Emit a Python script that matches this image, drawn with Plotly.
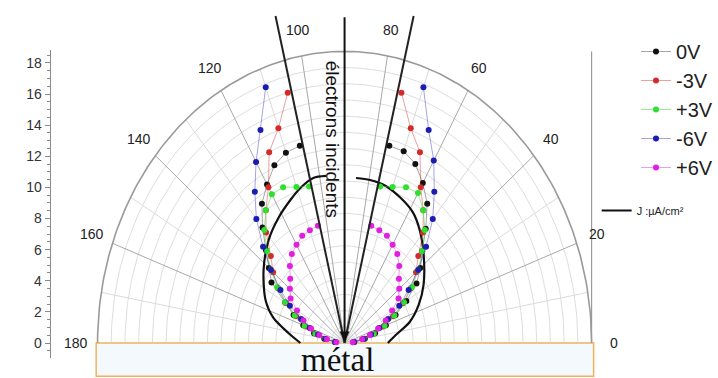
import numpy as np
import plotly.graph_objects as go

# Emission angles (degrees) of the measured points, on each side of the normal
theta_right = [5, 10, 15, 20, 25, 30, 35, 40, 45, 50, 55, 60, 65, 70, 75]
theta_left = [105, 110, 115, 120, 125, 130, 135, 140, 145, 150, 155, 160, 165, 170, 175]

# Angular distribution for each bias voltage (None = no measurement)
r_0V_right = [0.7, 1.5, 2.3, 3.2, 4.1, 5.2, 6.4, 7.2, 8.0, 9.2, 10.5, 11.4, 12.2, 12.6, 12.6]
r_0V_left = [12.6, 12.5, 12.1, 11.3, 10.5, 9.3, 8.1, 7.2, 6.5, 5.0, 4.1, 3.2, 2.3, 1.5, 0.7]

r_m3V_right = [0.7, 1.4, 2.2, 3.0, 3.9, 4.9, 5.9, 6.8, 7.6, 8.9, 10.0, 11.1, 13.0, 14.1, 16.0]
r_m3V_left = [16.0, 14.1, 13.0, 11.1, 10.0, 8.9, 7.6, 6.8, 5.9, 4.9, 3.9, 3.0, 2.2, 1.4, 0.7]

r_p3V_right = [0.7, 1.4, 2.2, 3.1, 4.0, 5.0, 6.0, 7.0, 8.0, 9.1, 10.0, 10.7, 10.6, 10.25, 10.0]
r_p3V_left = [10.0, 10.25, 10.6, 10.6, 10.0, 9.1, 8.0, 7.0, 6.0, 5.0, 4.0, 3.1, 2.2, 1.4, 0.7]

r_m6V_right = [0.7, 1.4, 2.0, 2.7, 3.5, 4.6, 5.7, 7.0, 8.4, 10.0, 11.4, 13.0, 14.5, 16.8, None]
r_m6V_left = [None, 16.8, 14.5, 12.9, 11.4, 10.0, 8.4, 7.0, 5.7, 4.6, 3.5, 2.7, 2.0, 1.4, 0.7]

r_p6V_right = [0.6, 1.3, 1.9, 2.6, 3.3, 4.0, 4.8, 5.2, 5.6, 6.2, 6.7, 7.0, 7.3, 7.4, 7.5]
r_p6V_left = [7.5, 7.4, 7.3, 7.0, 6.7, 6.2, 5.6, 5.2, 4.8, 4.0, 3.3, 2.6, 1.9, 1.3, 0.6]

# Current density J (uA/cm2), two lobes around the incident beam
j_theta_right = [0, 7.5, 15.3, 23.5, 31.9, 43.3, 51.9, 58.5, 65.4, 72.8, 79.6, 85.3]
j_r_right = [3.15, 3.76, 4.92, 5.89, 6.78, 7.92, 8.87, 9.49, 9.84, 10.15, 10.23, 10.22]
j_theta_left = [97.4, 102.6, 108.1, 114.1, 122, 131, 142.7, 155.3, 163.4, 171.4, 180]
j_r_left = [10.4, 10.44, 10.13, 9.67, 9.1, 8.43, 7.42, 6.34, 5.41, 4.14, 3.22]

series = [
    ("0V", r_0V_right, r_0V_left, "#111111", "rgba(60,60,60,0.45)"),
    ("-3V", r_m3V_right, r_m3V_left, "#d42a2a", "rgba(212,42,42,0.45)"),
    ("+3V", r_p3V_right, r_p3V_left, "#2fe02f", "rgba(47,224,47,0.5)"),
    ("-6V", r_m6V_right, r_m6V_left, "#1c1cb4", "rgba(28,28,180,0.4)"),
    ("+6V", r_p6V_right, r_p6V_left, "#e020e0", "rgba(224,32,224,0.45)"),
]

angle_ticks = list(range(0, 181, 20))
left_axis_ticks = list(range(0, 19, 2))

R_OUTER = 18
R_LABEL = 19.6
BEAM_ANGLES = [76, 104]
BEAM_LEN = 20.8
NORMAL_LEN = 20.2


def to_xy(theta_deg, r):
    t = np.radians(np.asarray(theta_deg, dtype=float))
    rr = np.asarray(r, dtype=float)
    return rr * np.cos(t), rr * np.sin(t)


fig = go.Figure()

# polar grid: rings and spokes on a half plane
arc = np.linspace(0, 180, 181)
for ring in range(1, R_OUTER):
    x, y = to_xy(arc, np.full_like(arc, ring))
    fig.add_trace(go.Scatter(x=x, y=y, mode="lines", line=dict(color="#d4d4d4", width=0.8),
                             showlegend=False, hoverinfo="skip"))
for ang in range(10, 180, 10):
    major = ang % 20 == 0
    x, y = to_xy([ang, ang], [0, R_OUTER])
    fig.add_trace(go.Scatter(x=x, y=y, mode="lines",
                             line=dict(color="#a8a8a8" if major else "#dadada", width=1),
                             showlegend=False, hoverinfo="skip"))
x, y = to_xy(arc, np.full_like(arc, R_OUTER))
fig.add_trace(go.Scatter(x=x, y=y, mode="lines", line=dict(color="#9a9a9a", width=1.6),
                         showlegend=False, hoverinfo="skip"))

# current density curve
jt = list(j_theta_right) + [None] + list(j_theta_left)
jr = list(j_r_right) + [None] + list(j_r_left)
jx, jy = to_xy(jt, jr)
fig.add_trace(go.Scatter(x=jx, y=jy, mode="lines", name="J :\u00b5A/cm\u00b2",
                         line=dict(color="#111111", width=2.2, shape="spline", smoothing=0.8),
                         legend="legend2"))

# measured distributions
for name, rr, rl, mcol, lcol in series:
    th = theta_right + [None] + theta_left
    rv = list(rr) + [None] + list(rl)
    x, y = to_xy(th, rv)
    fig.add_trace(go.Scatter(x=x, y=y, mode="lines+markers", name=name,
                             line=dict(color=lcol, width=1),
                             marker=dict(color=mcol, size=6)))

# carrier trace for the left scale
fig.add_trace(go.Scatter(x=[None], y=[None], xaxis="x", yaxis="y2",
                         showlegend=False, hoverinfo="skip"))

shapes = []
# incident beam boundaries
for ang in BEAM_ANGLES:
    bx, by = to_xy([0, ang], [0, BEAM_LEN])
    shapes.append(dict(type="line", xref="x", yref="y", x0=0, y0=0, x1=bx[1], y1=by[1],
                       line=dict(color="#222222", width=2)))
# frame line on the right
shapes.append(dict(type="line", xref="x", yref="y", x0=R_OUTER, y0=0, x1=R_OUTER, y1=R_OUTER,
                   line=dict(color="#9a9a9a", width=1.2)))
# metal block
shapes.append(dict(type="rect", xref="x", yref="y", x0=-R_OUTER - 0.1, y0=-2.05,
                   x1=R_OUTER + 0.15, y1=0, line=dict(color="#f0b35a", width=1.5),
                   fillcolor="#f3f9fc", layer="below"))

annotations = []
for a in angle_ticks:
    lx, ly = to_xy([a], [R_LABEL])
    annotations.append(dict(x=lx[0], y=ly[0], xref="x", yref="y", text=str(a), showarrow=False,
                            font=dict(size=14, color="#222222", family="Liberation Sans")))
annotations.append(dict(x=0, y=0.1, ax=0, ay=NORMAL_LEN, xref="x", yref="y", axref="x", ayref="y",
                        text="", showarrow=True, arrowhead=2, arrowsize=1, arrowwidth=2,
                        arrowcolor="#111111"))
annotations.append(dict(x=-0.9, y=12.6, xref="x", yref="y", text="électrons incidents",
                        textangle=90, showarrow=False,
                        font=dict(size=19, color="#111111", family="Liberation Sans")))
annotations.append(dict(x=-0.55, y=-1.05, xref="x", yref="y", text="métal", showarrow=False,
                        font=dict(size=33, color="#111111", family="Liberation Serif")))

kx, ky = 13.8, 16.2
cx, cy = 346.5, 343
W, H = 718, 378

fig.update_layout(
    width=W, height=H,
    margin=dict(l=0, r=0, t=0, b=0),
    paper_bgcolor="white", plot_bgcolor="rgba(0,0,0,0)",
    xaxis=dict(range=[-cx / kx, (W - cx) / kx], visible=False, domain=[0, 1]),
    yaxis=dict(range=[-(H - cy) / ky, cy / ky], visible=False, domain=[0, 1]),
    yaxis2=dict(domain=[(H - 358) / H, (H - 50) / H], anchor="free", position=50 / W,
                range=[-(358 - cy) / 15.56, (cy - 50) / 15.56],
                tickmode="array", tickvals=left_axis_ticks, ticks="outside", ticklen=5,
                tickcolor="#8a8a8a", showline=True, linecolor="#8a8a8a", linewidth=1,
                showgrid=False, zeroline=False,
                tickfont=dict(size=14, color="#333333", family="Liberation Sans"),
                minor=dict(ticks="outside", ticklen=3, dtick=0.5, tick0=0, tickcolor="#8a8a8a")),
    shapes=shapes,
    annotations=annotations,
    showlegend=True,
    legend=dict(x=640 / W, y=1 - 32 / H, xanchor="left", yanchor="top",
                font=dict(size=20, color="#222222", family="Liberation Sans"),
                bgcolor="rgba(0,0,0,0)", tracegroupgap=0),
    legend2=dict(x=600 / W, y=1 - 196 / H, xanchor="left", yanchor="top",
                 font=dict(size=11, color="#222222", family="Liberation Sans"),
                 bgcolor="rgba(0,0,0,0)"),
)

fig.write_html("out.html")
